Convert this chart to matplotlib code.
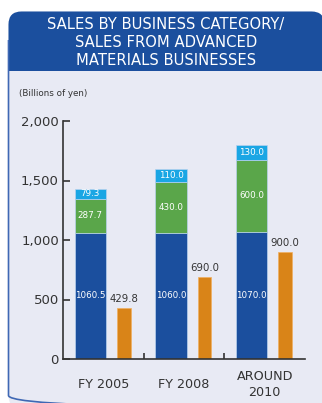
import matplotlib
matplotlib.use("Agg")
import matplotlib.pyplot as plt
from matplotlib.patches import FancyBboxPatch, Rectangle
import numpy as np

plt.rcParams['font.family'] = ['DejaVu Sans']

categories = ["FY 2005", "FY 2008", "AROUND\n2010"]
base_sales = [1060.5, 1060.0, 1070.0]
mid_sales = [287.7, 430.0, 600.0]
top_sales = [79.3, 110.0, 130.0]
advanced_sales = [429.8, 690.0, 900.0]
base_labels = ["1060.5", "1060.0", "1070.0"]
mid_labels = ["287.7", "430.0", "600.0"]
top_labels = ["79.3", "110.0", "130.0"]
adv_labels = ["429.8", "690.0", "900.0"]
y_ticks = [0, 500, 1000, 1500, 2000]
y_tick_labels = ["0", "500", "1,000", "1,500", "2,000"]

W, H = 322, 403
BLUE = "#1B4F9E"
GREEN = "#5AA64A"
CYAN = "#1AA6E4"
ORANGE = "#D98418"
PANEL = "#E8EAF4"
TEXT = "#333333"

fig = plt.figure(figsize=(W / 100, H / 100), dpi=100)
fig.patch.set_facecolor("white")

# Background layer in pixel coordinates for the framed panel and header
bg = fig.add_axes([0, 0, 1, 1])
bg.set_xlim(0, W)
bg.set_ylim(H, 0)
bg.axis("off")
panel = FancyBboxPatch((8.5, 11.5), 316, 397, boxstyle="round,pad=0,rounding_size=13",
                       facecolor=PANEL, edgecolor="none")
bg.add_patch(panel)
header = Rectangle((0, 0), W + 20, 71, facecolor=BLUE, edgecolor="none")
bg.add_patch(header)
header.set_clip_path(panel)
# outline along the left and bottom; the right side lies past the figure edge
border = FancyBboxPatch((8.5, 11.5), 360, 397, boxstyle="round,pad=0,rounding_size=13",
                        facecolor="none", edgecolor="#3F68B4", linewidth=1.2)
bg.add_patch(border)
border.set_clip_path(Rectangle((0, 40), W, H, transform=bg.transData))
bg.text(166, 42.5, "SALES BY BUSINESS CATEGORY/\nSALES FROM ADVANCED\nMATERIALS BUSINESSES",
        ha="center", va="center", color="white", fontsize=10.6, linespacing=1.22)
bg.text(19, 94, "(Billions of yen)", ha="left", va="center", color=TEXT, fontsize=6.3)

ax = fig.add_axes([63 / W, (H - 359) / H, 242 / W, 238 / H])
ax.set_facecolor("none")
x = np.arange(len(categories))
bw, ow = 0.385, 0.172
bx = x - 0.161
ox = x + 0.254
edge = dict(edgecolor="#B8D2EE", linewidth=0.5)
ax.bar(bx, base_sales, bw, color=BLUE, **edge)
ax.bar(bx, mid_sales, bw, bottom=base_sales, color=GREEN, **edge)
ax.bar(bx, top_sales, bw, bottom=np.add(base_sales, mid_sales), color=CYAN, **edge)
ax.bar(ox, advanced_sales, ow, color=ORANGE, edgecolor="#F0B060", linewidth=0.5)

for i in range(len(categories)):
    ax.text(bx[i], base_sales[i] / 2, base_labels[i], ha="center", va="center",
            color="white", fontsize=6.3)
    ax.text(bx[i], base_sales[i] + mid_sales[i] / 2, mid_labels[i], ha="center",
            va="center", color="white", fontsize=6.3)
    ax.text(bx[i], base_sales[i] + mid_sales[i] + top_sales[i] / 2, top_labels[i],
            ha="center", va="center", color="white", fontsize=6.3)
    ax.text(ox[i], advanced_sales[i] + 30, adv_labels[i], ha="center", va="bottom",
            color=TEXT, fontsize=7.3)

ax.set_xlim(-0.5, 2.5)
ax.set_ylim(0, 2000)
for s in ["top", "right"]:
    ax.spines[s].set_visible(False)
for s in ["left", "bottom"]:
    ax.spines[s].set_color(TEXT)
    ax.spines[s].set_linewidth(1.2)
ax.set_yticks(y_ticks)
ax.set_yticklabels(y_tick_labels)
ax.tick_params(axis="y", direction="in", length=5, width=1.2, color=TEXT,
               labelsize=9.5, labelcolor=TEXT, pad=3)
ax.set_xticks(x)
ax.set_xticklabels(categories, linespacing=1.35, va="center")
ax.tick_params(axis="x", which="major", length=0, labelsize=9.2, labelcolor=TEXT, pad=18.5)
ax.set_xticks([0.5, 1.5], minor=True)
ax.tick_params(axis="x", which="minor", direction="in", length=4, width=1.2, color=TEXT)

fig.savefig("out.png", dpi=100)
